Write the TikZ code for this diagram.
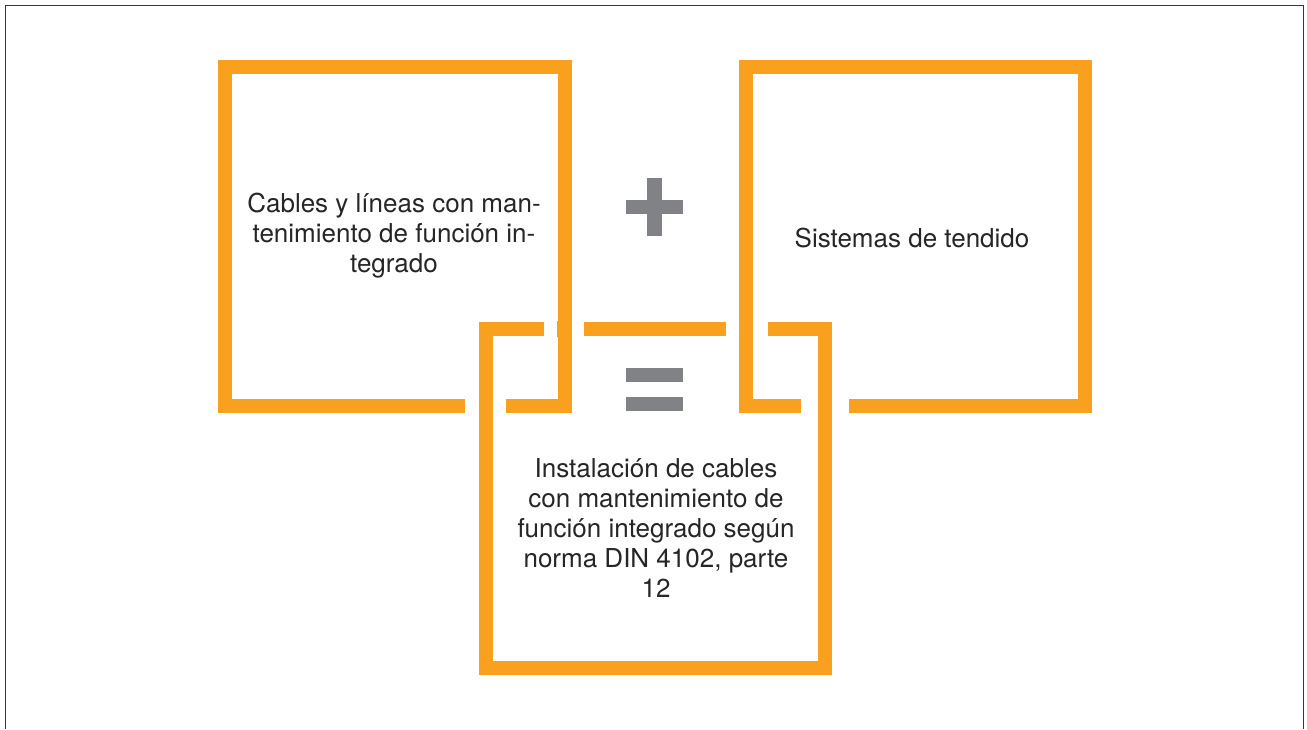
\documentclass[tikz,border=0pt]{standalone}
\usepackage{fontspec}
\setmainfont{TeX Gyre Heros}
\definecolor{frameorange}{RGB}{249,160,30}
\definecolor{signgray}{RGB}{129,130,133}
\definecolor{pageline}{RGB}{55,55,55}
\begin{document}
\begin{tikzpicture}[x=1pt,y=-1pt,
  boxfill/.style={rectangle,fill=white,draw=none,minimum width=339pt,minimum height=339pt,inner sep=0pt},
  band/.style={draw=frameorange,line width=14pt},
  gap/.style={fill=white},
  bar/.style={fill=frameorange},
  sign/.style={fill=signgray},
  label/.style={font=\fontsize{26}{30}\selectfont,align=center,text=black!85,inner sep=0pt}]
\useasboundingbox (0,0) rectangle (1307,729);
\draw[pageline,line width=1.5pt] (5.5,729) -- (5.5,5.5) -- (1303.5,5.5) -- (1303.5,729);
% box fills
\node[boxfill] (lbox) at (395,236.5) {};
\node[boxfill] (rbox) at (915.5,236.5) {};
\node[boxfill] (bbox) at (655.5,498.5) {};
% borders
\draw[band] (lbox.north west) rectangle (lbox.south east);
\draw[band] (rbox.north west) rectangle (rbox.south east);
\draw[band] (bbox.north west) rectangle (bbox.south east);
% interlocking gaps
\fill[gap] (544,322) rectangle (584,336);
\fill[bar] (557,321) rectangle (572,337);
\fill[gap] (726,322) rectangle (768,336);
\fill[bar] (739,321) rectangle (753,337);
\fill[gap] (465,399) rectangle (479,413);
\fill[gap] (493,399) rectangle (506,413);
\fill[gap] (801,399) rectangle (818,413);
\fill[gap] (832,399) rectangle (849,413);
% plus
\fill[sign] (647,178) rectangle (662,236);
\fill[sign] (626,200) rectangle (683,214);
% equals
\fill[sign] (626,368) rectangle (683,382);
\fill[sign] (626,397) rectangle (683,411);
% texts
\node[label] (ltext) at (394,236) {Cables y líneas con man-\\tenimiento de función in-\\tegrado};
\node[label,anchor=base] (rtext) at (912,247) {Sistemas de tendido};
\node[label] (btext) at (656,528) {Instalación de cables\\con mantenimiento de\\función integrado según\\norma DIN 4102, parte\\12};
\end{tikzpicture}
\end{document}
